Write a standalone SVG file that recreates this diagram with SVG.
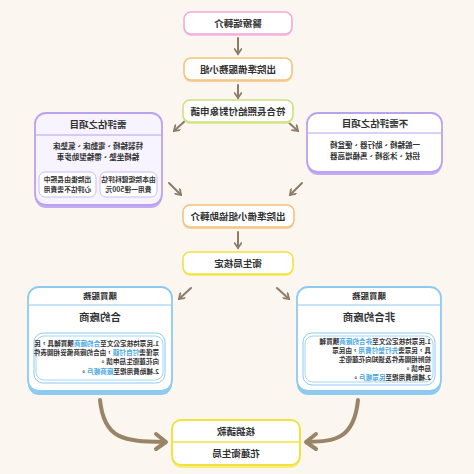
<svg xmlns="http://www.w3.org/2000/svg" width="474" height="474" viewBox="0 0 474 474">
<defs>
<style>
text{font-family:"Noto Sans CJK TC","Noto Sans CJK SC",sans-serif;font-weight:bold;fill:#333;}
.t{font-size:9.5px;text-anchor:middle;}
.s{font-size:7.5px;text-anchor:middle;}
.b{font-size:6.6px;}
.hl{fill:#4aa6e0;}
.box{fill:#fff;stroke-width:1.6;}
.arr{stroke:#8c7c68;stroke-width:2;fill:none;stroke-linecap:round;}
.carr{stroke:#9a8468;stroke-width:4;fill:none;stroke-linecap:round;stroke-linejoin:round;}
</style>
<marker id="ah" markerWidth="8" markerHeight="8" refX="6" refY="4" orient="auto" markerUnits="userSpaceOnUse">
<path d="M1,0.5 L6,4 L1,7.5" fill="none" stroke="#8c7c68" stroke-width="1.8" stroke-linecap="round"/>
</marker>
</defs>
<rect width="474" height="474" fill="#fbf6ef"/>
<g transform="matrix(-1 0 0 1 474 0)">
<g id="connectors">
<line class="arr" x1="236" y1="38" x2="236" y2="54" marker-end="url(#ah)"/>
<line class="arr" x1="236" y1="85" x2="236" y2="98" marker-end="url(#ah)"/>
<line class="arr" x1="288" y1="120" x2="300" y2="131" marker-end="url(#ah)"/>
<line class="arr" x1="187" y1="121" x2="176" y2="131" marker-end="url(#ah)"/>
<line class="arr" x1="305" y1="183" x2="293" y2="195" marker-end="url(#ah)"/>
<line class="arr" x1="172" y1="183" x2="184" y2="195" marker-end="url(#ah)"/>
<line class="arr" x1="236" y1="232" x2="236" y2="248" marker-end="url(#ah)"/>
<line class="arr" x1="283" y1="288" x2="295" y2="299" marker-end="url(#ah)"/>
<line class="arr" x1="197" y1="288" x2="185" y2="299" marker-end="url(#ah)"/>
<path class="carr" d="M374,400 C370,440 350,441 310,442"/>
<path class="carr" d="M318,434 L308,442 L318,449"/>
<path class="carr" d="M116,400 C120,440 140,441 166,442"/>
<path class="carr" d="M158,434 L168,442 L158,449"/>
</g>
<g id="n1">
<rect x="182" y="14" width="108" height="22" rx="7" fill="#f6c3e6"/>
<rect class="box" x="182" y="12" width="108" height="22" rx="7" stroke="#f1a9dc"/>
<text class="t" x="236" y="26.5">醫療端轉介</text>
</g>
<g id="n2">
<rect x="182" y="60" width="108" height="22" rx="7" fill="#f8d29c"/>
<rect class="box" x="182" y="58" width="108" height="22" rx="7" stroke="#f5c27c"/>
<text class="t" x="236" y="72.5">出院準備服務小組</text>
</g>
<g id="n3">
<rect x="181" y="102" width="110" height="22" rx="7" fill="#dcec9e"/>
<rect class="box" x="181" y="100" width="110" height="22" rx="7" stroke="#cde17e"/>
<text class="t" x="236" y="114.5">符合長照給付對象申請</text>
</g>
<g id="n4">
<rect x="312" y="117" width="127" height="91" rx="11" fill="#c3acf2"/>
<rect x="312" y="113" width="127" height="92" rx="11" fill="#f7f3ff" stroke="#b9a2ee" stroke-width="1.8"/>
<line x1="313" y1="135" x2="438" y2="135" stroke="#b9a2ee" stroke-width="1.2"/>
<text class="t" x="376" y="128">需評估之項目</text>
<text class="s" x="376" y="149">特製輪椅、電動床、氣墊床</text>
<text class="s" x="376" y="160">輪椅坐墊、帶輪型助步車</text>
<rect x="317" y="172" width="57" height="25" rx="6" fill="#fff" stroke="#cbbcf3" stroke-width="1"/>
<rect x="378" y="172" width="57" height="25" rx="6" fill="#fff" stroke="#cbbcf3" stroke-width="1"/>
<text class="s" x="345.5" y="182" style="font-size:6.8px">由本院復健科評估</text>
<text class="s" x="345.5" y="192" style="font-size:6.8px">費用一律500元</text>
<text class="s" x="406.5" y="182" style="font-size:6.8px">出院後由長照中</text>
<text class="s" x="406.5" y="192" style="font-size:6.8px">心評估不需費用</text>
</g>
<g id="n5">
<rect x="32" y="117" width="135" height="58" rx="11" fill="#c3acf2"/>
<rect x="32" y="113" width="135" height="59" rx="11" fill="#fff" stroke="#b9a2ee" stroke-width="1.8"/>
<line x1="33" y1="133" x2="166" y2="133" stroke="#b9a2ee" stroke-width="1.2"/>
<text class="t" x="99" y="127">不需評估之項目</text>
<text class="s" x="99" y="148">一般輪椅、助行器、便盆椅</text>
<text class="s" x="99" y="159">拐杖、沐浴椅、馬桶增高器</text>
</g>
<g id="n6">
<rect x="180" y="207" width="111" height="22" rx="7" fill="#f8d29c"/>
<rect class="box" x="180" y="205" width="111" height="22" rx="7" stroke="#f5c27c"/>
<text class="t" x="236" y="219.5">出院準備小組協助轉介</text>
</g>
<g id="n7">
<rect x="181" y="254" width="110" height="22" rx="7" fill="#f7ee7a"/>
<rect class="box" x="181" y="252" width="110" height="22" rx="7" stroke="#f0e240" stroke-width="2"/>
<text class="t" x="236" y="266.5">衛生局核定</text>
</g>
<g id="n8">
<rect x="302" y="291" width="144" height="104" rx="11" fill="#8ecaf0"/>
<rect x="302" y="287" width="144" height="104" rx="11" fill="#fff" stroke="#8ecaf0" stroke-width="1.8"/>
<line x1="303" y1="305" x2="445" y2="305" stroke="#8ecaf0" stroke-width="1.2"/>
<text class="s" x="374" y="299" style="font-size:8.5px">購買服務</text>
<text class="t" x="374" y="321" style="font-size:10.5px">合約廠商</text>
<rect x="309" y="333" width="131" height="50" rx="9" fill="#fff" stroke="#8ecaf0" stroke-width="1"/>
<rect x="311" y="336" width="127" height="44" rx="8" fill="none" stroke="#8ecaf0" stroke-width="0.8"/>
<text class="b" x="315" y="346">1.民眾持核定公文至<tspan class="hl">合約廠商</tspan>購買輔具，民</text>
<text class="b" x="315" y="355">眾僅需<tspan class="hl">付自付額</tspan>，由合約廠商備妥相關表件</text>
<text class="b" x="315" y="364">向花蓮衛生局申請。</text>
<text class="b" x="315" y="374">2.補助費用撥至<tspan class="hl">廠商帳戶</tspan>。</text>
</g>
<g id="n9">
<rect x="33" y="291" width="144" height="104" rx="11" fill="#8ecaf0"/>
<rect x="33" y="287" width="144" height="104" rx="11" fill="#fff" stroke="#8ecaf0" stroke-width="1.8"/>
<line x1="34" y1="305" x2="176" y2="305" stroke="#8ecaf0" stroke-width="1.2"/>
<text class="s" x="105" y="299" style="font-size:8.5px">購買服務</text>
<text class="t" x="105" y="321" style="font-size:10.5px">非合約廠商</text>
<rect x="39" y="333" width="132" height="52" rx="9" fill="#fff" stroke="#8ecaf0" stroke-width="1"/>
<rect x="41" y="336" width="128" height="46" rx="8" fill="none" stroke="#8ecaf0" stroke-width="0.8"/>
<text class="b" x="43" y="344">1.民眾持核定公文至<tspan class="hl">非合約廠商</tspan>購買輔</text>
<text class="b" x="43" y="353">具，民眾需<tspan class="hl">先行墊付費用</tspan>，由民眾</text>
<text class="b" x="43" y="362">檢附相關表件及通知向花蓮衛生</text>
<text class="b" x="43" y="371">局申請。</text>
<text class="b" x="43" y="380">2.補助費用撥至<tspan class="hl">民眾帳戶</tspan>。</text>
</g>
<g id="n10">
<rect x="174" y="423" width="128" height="45" rx="9" fill="#f7ee7a"/>
<rect x="174" y="420" width="128" height="45" rx="9" fill="#fff" stroke="#f0e240" stroke-width="2"/>
<line x1="175" y1="442" x2="301" y2="442" stroke="#f0e240" stroke-width="1.5"/>
<text class="t" x="238" y="434.5">核銷請款</text>
<text class="t" x="238" y="456.5">花蓮衛生局</text>
</g>
</g>
</svg>
